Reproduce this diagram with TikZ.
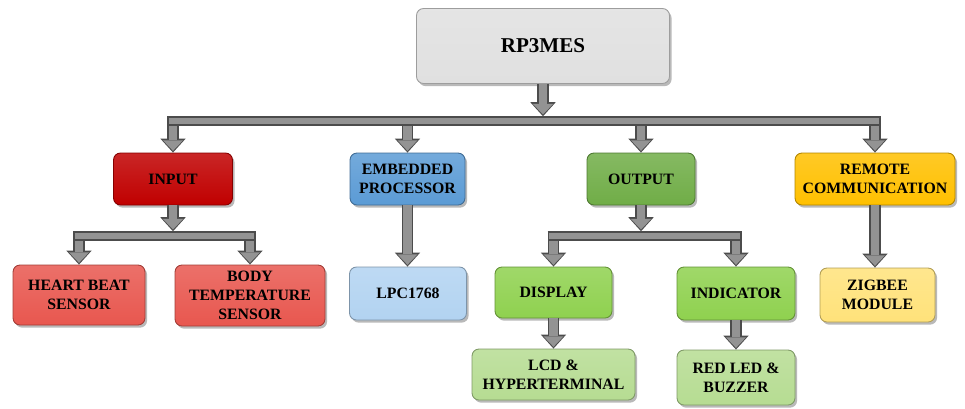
\documentclass[tikz,border=0pt]{standalone}
\usepackage{fontspec}
\setmainfont{Liberation Serif}
\usetikzlibrary{arrows.meta, calc, shadows}

\definecolor{rpgray}{HTML}{E0E0E0}
\definecolor{inred}{HTML}{C00000}
\definecolor{sensred}{HTML}{E8574F}
\definecolor{procblue}{HTML}{5B9BD5}
\definecolor{lpcblue}{HTML}{B2D3F1}
\definecolor{outgreen}{HTML}{70AD47}
\definecolor{dispgreen}{HTML}{8FD14F}
\definecolor{lcdgreen}{HTML}{B6DC92}
\definecolor{remgold}{HTML}{FFC000}
\definecolor{zigyellow}{HTML}{FFE27A}

\begin{document}
\begin{tikzpicture}[
		box/.style={rectangle, rounded corners=4pt, draw=#1!70!black, line width=0.5pt,
			top color=#1!85!white, bottom color=#1,
			drop shadow={shadow xshift=1.2pt, shadow yshift=-1.5pt, opacity=0.55},
			align=center, inner sep=2pt, font=\fontsize{9}{11}\selectfont\bfseries},
		fat/.style={draw=gray!85, line width=4.6pt, shorten >=1pt,
			-{Triangle[length=6pt, width=11.5pt, line width=0pt]},
			preaction={draw=black!70, line width=6.6pt, shorten >=0pt,
				-{Triangle[length=8pt, width=14.5pt, line width=0pt]}}},
		bus/.style={draw=gray!85, line width=3.6pt, shorten <=-2.3pt, shorten >=-2.3pt,
			preaction={draw=black!70, line width=5.4pt, shorten <=-3.3pt, shorten >=-3.3pt}}
	]
		\useasboundingbox (0,0) rectangle (19.3,-8.16);
		
		% Top block
		\node[box=rpgray, minimum width=5.06cm, minimum height=1.5cm,
		font=\fontsize{12}{14}\selectfont\bfseries] (rp) at (10.86,-0.92) {RP3MES};
		
		% First level
		\node[box=inred, minimum width=2.38cm, minimum height=1.04cm] (input) at (3.46,-3.58) {INPUT};
		\node[box=procblue, minimum width=2.3cm, minimum height=1.04cm] (embedded) at (8.15,-3.58) {EMBEDDED\\PROCESSOR};
		\node[box=outgreen, minimum width=2.16cm, minimum height=1.04cm] (output) at (12.82,-3.58) {OUTPUT};
		\node[box=remgold, minimum width=3.2cm, minimum height=1.04cm] (remote) at (17.5,-3.58) {REMOTE\\COMMUNICATION};
		
		% Second level
		\node[box=sensred, minimum width=2.64cm, minimum height=1.2cm] (heart) at (1.58,-5.9) {HEART BEAT\\SENSOR};
		\node[box=sensred, minimum width=3.0cm, minimum height=1.22cm] (body) at (5.0,-5.91) {BODY\\TEMPERATURE\\SENSOR};
		\node[box=lpcblue, minimum width=2.34cm, minimum height=1.06cm] (lpc) at (8.16,-5.87) {LPC1768};
		\node[box=dispgreen, minimum width=2.34cm, minimum height=1.02cm] (display) at (11.07,-5.85) {DISPLAY};
		\node[box=dispgreen, minimum width=2.36cm, minimum height=1.06cm] (indicator) at (14.72,-5.87) {INDICATOR};
		\node[box=zigyellow, minimum width=2.3cm, minimum height=1.08cm] (zigbee) at (17.55,-5.9) {ZIGBEE\\MODULE};
		
		% Third level
		\node[box=lcdgreen, minimum width=3.26cm, minimum height=1.02cm] (lcd) at (11.07,-7.49) {LCD \&\\HYPERTERMINAL};
		\node[box=lcdgreen, minimum width=2.36cm, minimum height=1.1cm] (redled) at (14.72,-7.55) {RED LED \&\\BUZZER};
		
		% Bus lines
		\coordinate (tbus) at (10.86,-2.42);
		\coordinate (ibus) at (3.46,-4.72);
		\coordinate (obus) at (12.82,-4.72);
		
		\foreach \n in {input, embedded, output, remote}
		\draw[fat] (\n.north |- tbus) -- (\n.north);
		\foreach \n in {heart, body}
		\draw[fat] (\n.north |- ibus) -- (\n.north);
		\foreach \n in {display, indicator}
		\draw[fat] (\n.north |- obus) -- (\n.north);
		
		\draw[bus] (input.north |- tbus) -- (remote.north |- tbus);
		\draw[bus] (heart.north |- ibus) -- (body.north |- ibus);
		\draw[bus] (display.north |- obus) -- (indicator.north |- obus);
		
		\draw[fat] (rp.south) -- ($(rp.south |- tbus)+(0,2.7pt)$);
		\draw[fat] (input.south) -- ($(input.south |- ibus)+(0,2.7pt)$);
		\draw[fat] (output.south) -- ($(output.south |- obus)+(0,2.7pt)$);
		
		% Direct links
		\draw[fat] (embedded.south) -- (embedded.south |- lpc.north);
		\draw[fat] (remote.south) -- (remote.south |- zigbee.north);
		\draw[fat] (display.south) -- (display.south |- lcd.north);
		\draw[fat] (indicator.south) -- (indicator.south |- redled.north);
	\end{tikzpicture}
\end{document}
